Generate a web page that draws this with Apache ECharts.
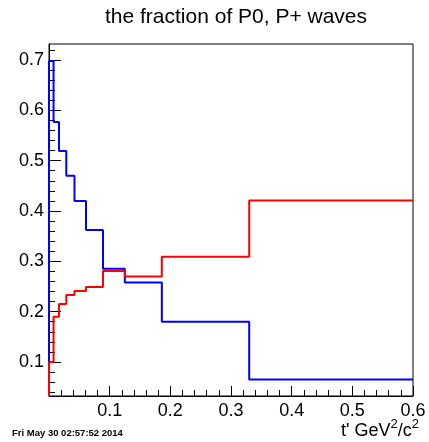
<!DOCTYPE html>
<html>
<head>
  <meta charset="utf-8">
  <title>the fraction of P0, P+ waves</title>
  <style>
    html, body { margin: 0; padding: 0; background: #fff; }
    #chart { width: 429px; height: 442px; }
  </style>
  <script src="https://cdn.jsdelivr.net/npm/echarts@6/dist/echarts.min.js"></script>
</head>
<body>
  <div id="chart"></div>
  <script>
    // bin edges in t' (GeV^2/c^2)
    var binEdges = [0, 0.0075, 0.0165, 0.0285, 0.042, 0.061, 0.089, 0.125, 0.186, 0.33, 0.6];
    // fraction per bin
    var blueVals = [0.698, 0.577, 0.519, 0.470, 0.420, 0.362, 0.285, 0.258, 0.180, 0.065];
    var redVals  = [0.100, 0.190, 0.215, 0.233, 0.241, 0.249, 0.281, 0.270, 0.309, 0.421];
    // y tick labels
    var yMajor = [0.1, 0.2, 0.3, 0.4, 0.5, 0.6, 0.7];

    var Y_MIN = 0.0324, Y_MAX = 0.7318;
    var FONT = '"Liberation Sans", Arial, Helvetica, sans-serif';

    // histogram outline: up from the floor, flat across each bin
    function steps(edges, vals) {
      var pts = [[edges[0], Y_MIN]];
      for (var i = 0; i < vals.length; i++) {
        pts.push([edges[i], vals[i]]);
        pts.push([edges[i + 1], vals[i]]);
      }
      return pts;
    }

    // minor y ticks every 0.02, skipping the majors
    var yMinor = [];
    for (var k = 2; k <= 36; k++) {
      if (k % 5 !== 0) yMinor.push(Math.round(k * 2) / 100);
    }

    var chart = echarts.init(document.getElementById('chart'), null, { renderer: 'canvas' });

    var option = {
      animation: false,
      backgroundColor: '#fff',
      grid: {
        left: 49, right: 16, top: 44, bottom: 46,
        show: true, borderColor: '#000', borderWidth: 1, backgroundColor: '#fff'
      },
      xAxis: {
        type: 'value',
        min: 0, max: 0.6, interval: 0.1,
        axisLine: { show: true, onZero: false, lineStyle: { color: '#000', width: 1 } },
        axisTick: { show: true, inside: true, length: 10, lineStyle: { color: '#000' } },
        minorTick: { show: true, splitNumber: 5, length: 6, lineStyle: { color: '#000' } },
        splitLine: { show: false },
        axisLabel: {
          showMinLabel: false, margin: 6,
          color: '#000', fontSize: 18, fontFamily: FONT
        }
      },
      yAxis: [{
        type: 'value',
        min: Y_MIN, max: Y_MAX,
        axisLine: { show: true, onZero: false, lineStyle: { color: '#000', width: 1 } },
        axisTick: { show: true, inside: true, length: 12, customValues: yMajor, lineStyle: { color: '#000' } },
        splitLine: { show: false },
        axisLabel: {
          customValues: yMajor, margin: 5,
          formatter: function (v) { return v.toFixed(1); },
          color: '#000', fontSize: 18, fontFamily: FONT
        }
      }, {
        type: 'value',
        position: 'left',
        min: Y_MIN, max: Y_MAX,
        axisLine: { show: false },
        axisTick: { show: true, inside: true, length: 6, customValues: yMinor, lineStyle: { color: '#000' } },
        axisLabel: { show: false },
        splitLine: { show: false }
      }],
      series: [{
        type: 'line',
        data: steps(binEdges, blueVals),
        showSymbol: false,
        lineStyle: { color: '#0000ff', width: 2 },
        z: 3
      }, {
        type: 'line',
        data: steps(binEdges, redVals),
        showSymbol: false,
        lineStyle: { color: '#ff0000', width: 2 },
        z: 4
      }],
      graphic: [{
        type: 'text',
        x: 236, y: 17,
        style: {
          text: 'the fraction of P0, P+ waves',
          fill: '#000', font: '21px ' + FONT,
          textAlign: 'center', textVerticalAlign: 'middle'
        }
      }, {
        type: 'text',
        x: 419, y: 440,
        style: {
          text: "{b|t' GeV}{s|2}{b|/c}{s|2}",
          textAlign: 'right', textVerticalAlign: 'bottom',
          rich: {
            b: { fontSize: 18, fontFamily: FONT, fill: '#000', lineHeight: 22, verticalAlign: 'bottom' },
            s: { fontSize: 13, fontFamily: FONT, fill: '#000', lineHeight: 22, verticalAlign: 'top' }
          }
        }
      }, {
        type: 'text',
        x: 12, y: 433,
        style: {
          text: 'Fri May 30 02:57:52 2014',
          fill: '#000', font: 'bold 9.5px ' + FONT,
          textAlign: 'left', textVerticalAlign: 'middle'
        }
      }]
    };

    chart.setOption(option);
  </script>
</body>
</html>
